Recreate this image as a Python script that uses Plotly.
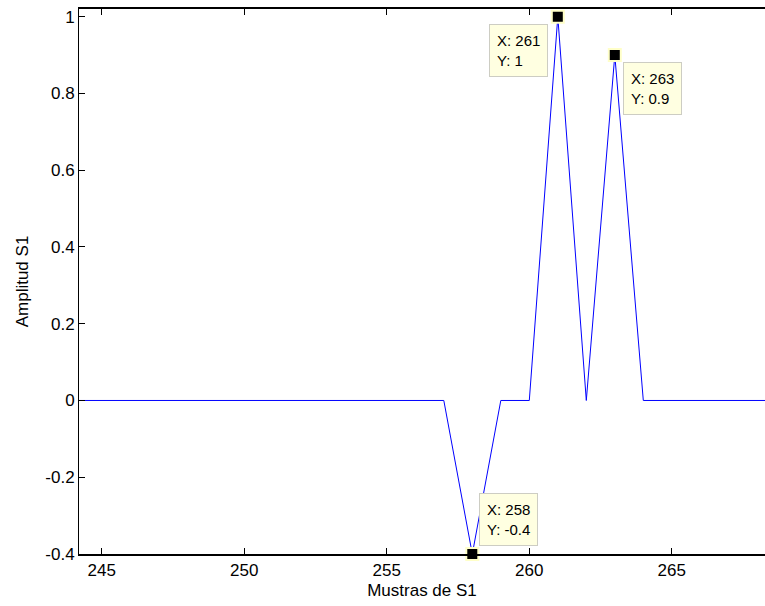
import plotly.graph_objects as go

# Data
samples = list(range(240, 271))
amplitude_map = {258: -0.4, 261: 1.0, 262: 0.0, 263: 0.9}
amplitude = [amplitude_map.get(s, 0.0) for s in samples]

tip_x = [261, 263, 258]
tip_y = [1.0, 0.9, -0.4]
tip_text = ["X: 261<br>Y: 1", "X: 263<br>Y: 0.9", "X: 258<br>Y: -0.4"]

x_tickvals = [245, 250, 255, 260, 265]
x_ticktext = ["245", "250", "255", "260", "265"]
y_tickvals = [1, 0.8, 0.6, 0.4, 0.2, 0, -0.2, -0.4]
y_ticktext = ["1", "0.8", "0.6", "0.4", "0.2", "0", "-0.2", "-0.4"]

FONT = "Liberation Sans, Arial, sans-serif"

fig = go.Figure()
fig.add_trace(go.Scatter(x=samples, y=amplitude, mode="lines",
                         line=dict(color="rgb(0,0,255)", width=1),
                         showlegend=False, hoverinfo="skip"))
fig.add_trace(go.Scatter(x=tip_x, y=tip_y, mode="markers",
                         marker=dict(symbol="square", size=12, color="black",
                                     line=dict(color="rgb(255,255,200)", width=2)),
                         showlegend=False, cliponaxis=False, hoverinfo="skip"))

# datatip boxes: (xanchor, yanchor, xshift, yshift)
placements = [("right", "top", -10, -7), ("left", "top", 8, -7), ("left", "bottom", 7, 8)]
for (x, y, t, (xa, ya, xs, ys)) in zip(tip_x, tip_y, tip_text, placements):
    fig.add_annotation(x=x, y=y, text=t, showarrow=False, xanchor=xa, yanchor=ya,
                       xshift=xs, yshift=ys, align="left",
                       bgcolor="rgb(255,255,225)", bordercolor="rgb(205,205,195)",
                       borderwidth=1, borderpad=7,
                       font=dict(family=FONT, size=15, color="black"))

fig.update_layout(
    width=765, height=606,
    margin=dict(l=79, r=0, t=9, b=52, autoexpand=False),
    paper_bgcolor="white", plot_bgcolor="white",
    font=dict(family=FONT, size=17, color="black"),
    xaxis=dict(range=[244.2, 268.27], tickvals=x_tickvals, ticktext=x_ticktext,
               showgrid=False, zeroline=False, showline=True, linecolor="black",
               linewidth=1.5, mirror="ticks", ticks="inside", ticklen=6,
               tickcolor="black", tickfont=dict(size=17), automargin=False,
               title=dict(text="Mustras de S1", font=dict(size=17), standoff=5)),
    yaxis=dict(range=[-0.4, 1.02], tickvals=y_tickvals, ticktext=y_ticktext,
               showgrid=False, zeroline=False, showline=True, linecolor="black",
               linewidth=1, mirror=False, ticks="inside", ticklen=6,
               tickcolor="black", tickfont=dict(size=17), automargin=False,
               title=dict(text="Amplitud S1", font=dict(size=17), standoff=12)),
)

fig.write_html("out.html", config={"displayModeBar": False},
               post_script="document.body.style.margin='0';document.body.style.overflow='hidden';")
